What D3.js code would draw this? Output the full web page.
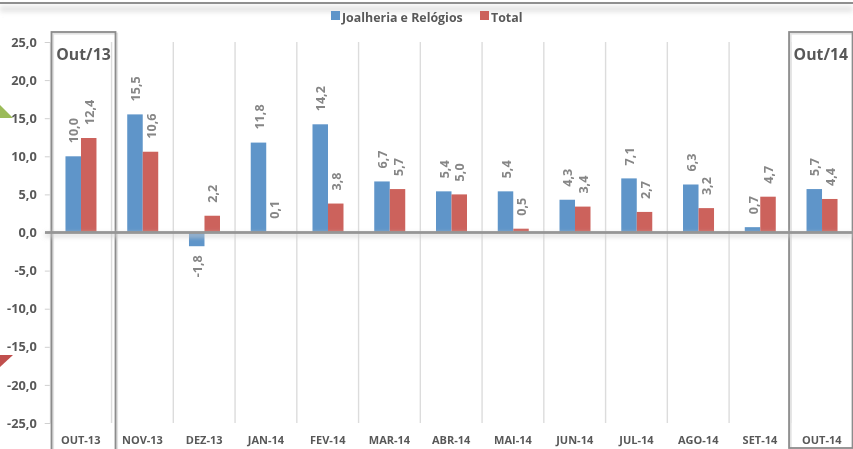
<!DOCTYPE html>
<html><head><meta charset="utf-8">
<script src="https://cdn.jsdelivr.net/npm/d3@7"></script>
<style>html,body{margin:0;padding:0;background:#fff;overflow:hidden}svg{display:block}text{font-family:"Open Sans",sans-serif}</style>
</head><body><svg id="c" width="853" height="449"></svg>
<script>
const categories=["OUT-13","NOV-13","DEZ-13","JAN-14","FEV-14","MAR-14","ABR-14","MAI-14","JUN-14","JUL-14","AGO-14","SET-14","OUT-14"];
const joalheria=[10.0,15.5,-1.8,11.8,14.2,6.7,5.4,5.4,4.3,7.1,6.3,0.7,5.7];
const total=[12.4,10.6,2.2,0.1,3.8,5.7,5.0,0.5,3.4,2.7,3.2,4.7,4.4];
const yTicks=[25,20,15,10,5,0,-5,-10,-15,-20,-25];
const seriesNames=["Joalheria e Relógios","Total"];
const seriesColors=["#5f95c9","#cc625c"];
const highlights=[["OUT-13","Out/13"],["OUT-14","Out/14"]];

const fmt=v=>v.toFixed(1).replace(".",",");
const svg=d3.select("#c");
const defs=svg.append("defs");
defs.append("filter").attr("id","soft").attr("filterUnits","userSpaceOnUse").attr("x",0).attr("y",0).attr("width",853).attr("height",449)
  .append("feGaussianBlur").attr("stdDeviation",0.4);
defs.append("filter").attr("id","shadow").attr("filterUnits","userSpaceOnUse").attr("x",0).attr("y",0).attr("width",853).attr("height",449)
  .append("feGaussianBlur").attr("stdDeviation",2.5);

const root=svg.append("g").attr("filter","url(#soft)");
const x=d3.scaleBand().domain(categories).range([49.8,852.6]);
const y=d3.scaleLinear().domain([-25,25]).range([423,42]);
const bw=15.5;
const mid=d=>x(d)+x.bandwidth()/2+0.3;

// top rule and its shadow
root.append("rect").attr("x",0).attr("y",6).attr("width",853).attr("height",6).attr("fill","#e4e4e4").attr("filter","url(#shadow)");
root.append("rect").attr("x",0).attr("y",2).attr("width",853).attr("height",2).attr("fill","#8f8f8f");

// decorations at the left edge
root.append("path").attr("d","M0,105L13,118L0,118Z").attr("fill","#9bbb59");
root.append("path").attr("d","M0,367L13,355L0,355Z").attr("fill","#c0504d");

// vertical grid
root.append("g").selectAll("line").data(categories.slice(0,12)).join("line")
  .attr("x1",d=>x(d)+x.bandwidth()).attr("x2",d=>x(d)+x.bandwidth())
  .attr("y1",y(25)).attr("y2",y(-25)).attr("stroke","#dcdcdc").attr("stroke-width",1.4);

// y axis
const ya=root.append("g").attr("transform","translate(49.8,0)")
  .call(d3.axisLeft(y).tickValues(yTicks).tickFormat(fmt).tickSize(5).tickPadding(8));
ya.select(".domain").attr("stroke","#d9d9d9").attr("stroke-width",1);
ya.selectAll(".tick line").attr("stroke","#d0d0d0");
ya.selectAll("text").attr("fill","#595959").attr("font-size",12.8).attr("font-weight",700).style("font-family",'"Open Sans",sans-serif');

// highlight frames (below the zero line)
const frameDx=[1.7,-1.8], frameW=[64,63.5], frameH=[425,416];
const frame=root.append("g").selectAll("g").data(highlights).join("g");
frame.append("rect")
  .attr("x",(d,i)=>x(d[0])+frameDx[i]+1.6).attr("y",33.6).attr("width",(d,i)=>frameW[i]).attr("height",(d,i)=>frameH[i])
  .attr("fill","none").attr("stroke","#e2e2e2").attr("stroke-width",2);
frame.append("rect")
  .attr("x",(d,i)=>x(d[0])+frameDx[i]).attr("y",32).attr("width",(d,i)=>frameW[i]).attr("height",(d,i)=>frameH[i])
  .attr("fill","none").attr("stroke","#8c8c8c").attr("stroke-width",1.8);
frame.append("text")
  .attr("x",(d,i)=>x(d[0])+frameDx[i]+frameW[i]/2).attr("y",60).attr("text-anchor","middle")
  .attr("font-size",15.8).attr("font-weight",700).attr("fill","#595959").text(d=>d[1]);

// bars
const series=[joalheria,total];
series.forEach((vals,si)=>{
  const g=root.append("g");
  g.selectAll("rect").data(vals).join("rect")
    .attr("x",(d,i)=>mid(categories[i])+(si?0:-bw))
    .attr("width",bw)
    .attr("y",d=>y(Math.max(0,d)))
    .attr("height",d=>Math.abs(y(d)-y(0)))
    .attr("fill",seriesColors[si]);
  g.selectAll("text").data(vals).join("text")
    .attr("transform",(d,i)=>{
      const cx=mid(categories[i])+(si?bw/2:-bw/2)+0.5;
      const py=d<0?y(d)+9:y(d)-13;
      return `translate(${cx},${py}) rotate(-90)`;
    })
    .attr("text-anchor",d=>d<0?"end":"start")
    .attr("dy","0.36em")
    .attr("font-size",12.6).attr("font-weight",700).attr("fill","#868686")
    .text(fmt);
});

// zero line
root.append("rect").attr("x",45).attr("width",808).attr("y",y(0)+1).attr("height",3).attr("fill","#d0d0d0").attr("filter","url(#shadow)");
root.append("rect").attr("x",45).attr("width",808).attr("y",y(0)-1.4).attr("height",2.8).attr("fill","#969696");

// x axis labels
const xa=root.append("g").attr("transform","translate(0,423)")
  .call(d3.axisBottom(x).tickSize(0).tickPadding(13));
xa.select(".domain").remove();
xa.selectAll("text").attr("fill","#595959").attr("font-size",11).attr("font-weight",700).style("font-family",'"Open Sans",sans-serif');

// legend
const lx=[331,480];
const lg=root.append("g").selectAll("g").data(seriesNames).join("g").attr("transform",(d,i)=>`translate(${lx[i]},11)`);
lg.append("rect").attr("width",9).attr("height",9).attr("fill",(d,i)=>seriesColors[i]);
lg.append("text").attr("x",11).attr("y",10.5).attr("font-size",12.4).attr("font-weight",700).attr("fill","#595959").text(d=>d);
</script></body></html>
